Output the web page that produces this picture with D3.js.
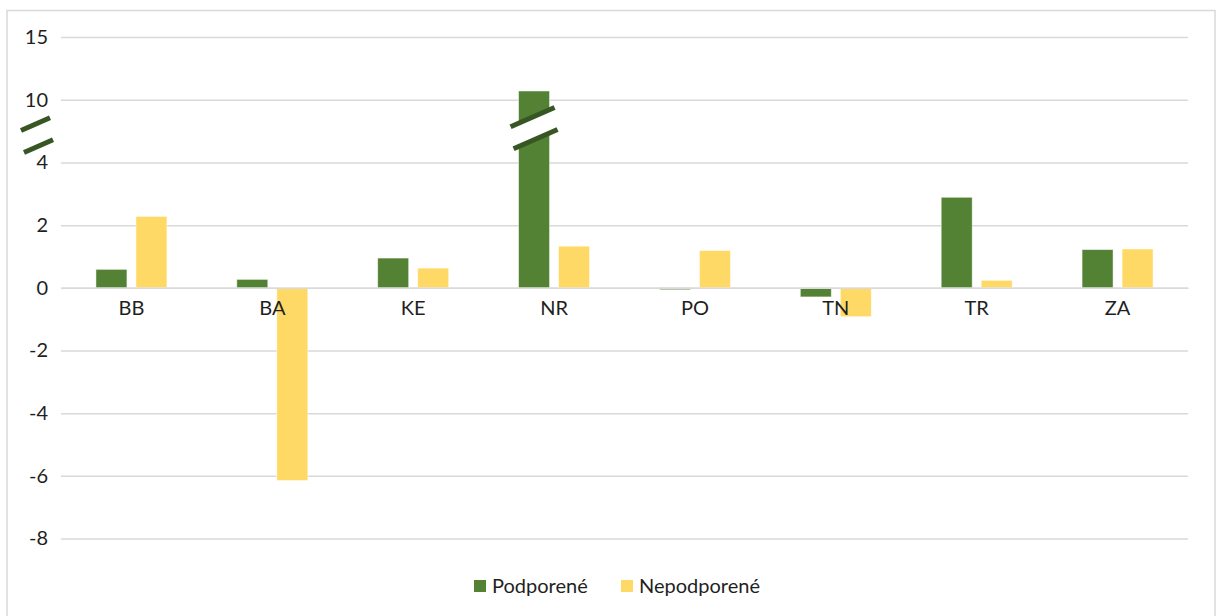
<!DOCTYPE html>
<html>
<head>
<meta charset="utf-8">
<script src="https://cdn.jsdelivr.net/npm/d3@7"></script>
<style>
  html, body { margin: 0; padding: 0; background: #fff; }
  svg { display: block; }
  text { font-family: Lato, "Open Sans", sans-serif; fill: #1f1f1f; }
</style>
</head>
<body>
<svg id="chart" width="1219" height="616"></svg>
<script>
const categories = ["BB", "BA", "KE", "NR", "PO", "TN", "TR", "ZA"];
const podporene = [0.59, 0.27, 0.95, 10.7, -0.06, -0.29, 2.89, 1.22];
const nepodporene = [2.28, -6.15, 0.63, 1.33, 1.19, -0.92, 0.24, 1.24];
const seriesNames = ["Podporené", "Nepodporené"];
const tickValues = [15, 10, 4, 2, 0, -2, -4, -6, -8];

const colors = ["#548235", "#FFD966"];
const breakColor = "#375623";

const svg = d3.select("#chart");

// chart border
svg.append("rect")
  .attr("x", 7).attr("y", 10.5).attr("width", 1208).attr("height", 620)
  .attr("fill", "#fff").attr("stroke", "#d9d9d9").attr("stroke-width", 1.5);

const plotLeft = 61, plotRight = 1188;

// broken y axis: piecewise linear scale
const y = d3.scaleLinear()
  .domain([-8, 4, 10, 15])
  .range([538.5, 162.5, 99.8, 37]);

const x = d3.scaleBand().domain(categories).range([plotLeft, plotRight]).paddingInner(0).paddingOuter(0);
const barW = 31, gap = 9;
const xs = d3.scaleBand().domain(seriesNames).range([0, barW * 2 + gap]).paddingInner(gap / (barW + gap));

// gridlines + labels
const yAxis = d3.axisLeft(y).tickValues(tickValues).tickSize(-(plotRight - plotLeft)).tickPadding(13).tickFormat(d => String(d));
const gY = svg.append("g").attr("transform", `translate(${plotLeft},0)`).call(yAxis);
gY.select(".domain").remove();
gY.selectAll(".tick line").attr("stroke", "#d9d9d9").attr("stroke-width", 1.5);
gY.selectAll(".tick text").style("font-size", "20px").attr("fill", "#1f1f1f");

// bars
const data = categories.map((c, i) => ({ cat: c, vals: [podporene[i], nepodporene[i]] }));
const groups = svg.append("g").selectAll("g").data(data).join("g")
  .attr("transform", d => `translate(${x(d.cat) + x.bandwidth() / 2 - (barW * 2 + gap) / 2},0)`);
groups.selectAll("rect").data(d => d.vals.map((v, j) => ({ v, j }))).join("rect")
  .attr("x", d => xs(seriesNames[d.j]))
  .attr("width", xs.bandwidth())
  .attr("y", d => Math.min(y(d.v), y(0)))
  .attr("height", d => Math.abs(y(d.v) - y(0)))
  .attr("fill", d => colors[d.j])
  .attr("stroke", "#fff").attr("stroke-opacity", 0.6).attr("stroke-width", 0.8);

// category labels
const xAxis = d3.axisBottom(x).tickSize(0).tickPadding(13);
const gX = svg.append("g").attr("transform", `translate(0,${y(0)})`).call(xAxis);
gX.select(".domain").attr("stroke", "#d9d9d9").attr("stroke-width", 1.5);
gX.selectAll(".tick text").style("font-size", "20px").attr("fill", "#1f1f1f");

// break marks
function breakMark(cx, cy, halfLen, whiteFill) {
  const dx = halfLen, dy = halfLen * 0.44;
  const off = 11;
  const l1 = [[cx - dx - 1.5, cy - off + dy], [cx + dx - 1.5, cy - off - dy]];
  const l2 = [[cx - dx + 1.5, cy + off + dy], [cx + dx + 1.5, cy + off - dy]];
  const g = svg.append("g");
  if (whiteFill) {
    g.append("polygon")
      .attr("points", [l1[0], l1[1], l2[1], l2[0]].map(p => p.join(",")).join(" "))
      .attr("fill", "#fff");
  }
  [l1, l2].forEach(l => {
    g.append("line")
      .attr("x1", l[0][0]).attr("y1", l[0][1]).attr("x2", l[1][0]).attr("y2", l[1][1])
      .attr("stroke", breakColor).attr("stroke-width", 5);
  });
}
breakMark(37, (y(4) + y(10)) / 2 + 4, 14.5, false);
const nrX = x("NR") + x.bandwidth() / 2 - (barW * 2 + gap) / 2 + xs("Podporené") + barW / 2;
breakMark(nrX, (y(10) + y(4)) / 2 - 3, 22, true);

// legend
const legend = svg.append("g").attr("transform", `translate(0,586)`);
const legendX = [474, 621];
seriesNames.forEach((s, i) => {
  legend.append("rect").attr("x", legendX[i]).attr("y", -6).attr("width", 12).attr("height", 12).attr("fill", colors[i]);
  legend.append("text").attr("x", legendX[i] + 18).attr("y", 0).attr("dy", "0.35em")
    .style("font-size", "20px").text(s);
});
</script>
</body>
</html>
